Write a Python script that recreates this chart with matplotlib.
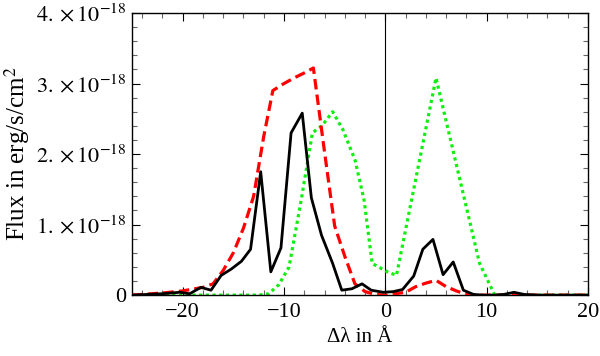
import numpy as np
import matplotlib
matplotlib.use("Agg")
import matplotlib.pyplot as plt
from matplotlib.ticker import FixedLocator, FixedFormatter, MultipleLocator

plt.rcParams['font.family'] = ['Liberation Serif', 'DejaVu Serif']
plt.rcParams['mathtext.fontset'] = 'stix'

# Data (flux in units of 1e-18 erg/s/cm^2)
x_black = [-25, -22, -20.3, -19.3, -18.2, -17.2, -16.2, -15.2, -14.2, -13.3, -12.3, -11.3, -10.3,
           -9.3, -8.2, -7.3, -6.3, -5.2, -4.3, -3.3, -2.3, -1.4, -0.2, 0.8, 1.7, 2.8, 3.7, 4.7,
           5.7, 6.7, 7.7, 8.7, 9.7, 10.7, 11.7, 12.7, 13.7, 15, 20]
y_black = [0, 0.02, 0.04, 0.02, 0.11, 0.07, 0.28, 0.37, 0.48, 0.65, 1.75, 0.33, 0.67,
           2.3, 2.58, 1.38, 0.85, 0.45, 0.07, 0.09, 0.16, 0.07, 0.04, 0.05, 0.08, 0.27, 0.65, 0.79,
           0.29, 0.47, 0.07, 0.01, 0, 0, 0.01, 0.04, 0.01, 0, 0]

x_red = [-25, -22, -20, -18, -17, -16, -15, -14, -13, -12, -11.1, -10, -9, -8, -7.1, -6, -5,
         -4, -3, -2, -1, 0, 1, 2, 3, 4, 5, 6, 7, 8, 9, 20]
y_red = [0, 0.03, 0.06, 0.11, 0.16, 0.35, 0.6, 0.95, 1.4, 2.25, 2.9, 3.0, 3.08, 3.15, 3.22, 2.03, 0.98,
         0.55, 0.16, 0.05, 0.01, 0, 0.02, 0.04, 0.12, 0.17, 0.21, 0.12, 0.06, 0.01, 0, 0]

x_green = [-25, -12.5, -11.5, -10.5, -9.5, -8.3, -7.2, -6.2, -5.2, -4.2, -3.0, -2.1, -1.3,
           0.2, 1.1, 5.0, 9.3, 10.8, 20]
y_green = [0, 0, 0.02, 0.15, 0.4, 1.35, 2.3, 2.41, 2.6, 2.35, 1.92, 1.35, 0.45,
           0.33, 0.28, 3.08, 0.45, 0, 0]

scale = 1e-18
y_major = [0, 1e-18, 2e-18, 3e-18, 4e-18]
y_labels = ["0", r"$1.\times10^{-18}$", r"$2.\times10^{-18}$", r"$3.\times10^{-18}$", r"$4.\times10^{-18}$"]
x_major = [-20, -10, 0, 10, 20]
x_labels = ["\u221220", "\u221210", "0", "10", "20"]

fig = plt.figure(figsize=(6, 3.56), dpi=100)
ax = fig.add_axes([0.22, 0.171, 0.76, 0.7925])

ax.axvline(0, color='black', lw=0.8, zorder=1)
ax.plot(x_green, np.array(y_green) * scale, color='#11ee11', lw=2.3, linestyle=(0, (1.0, 1.1)),
        zorder=2)
ax.plot(x_red, np.array(y_red) * scale, color='#ff0000', lw=2.3, linestyle=(0, (3.3, 1.6)),
        zorder=3)
ax.plot(x_black, np.array(y_black) * scale, color='black', lw=2.0, zorder=4)

ax.set_xlim(-25, 20)
ax.set_ylim(0, 4e-18)

ax.xaxis.set_major_locator(FixedLocator(x_major))
ax.xaxis.set_major_formatter(FixedFormatter(x_labels))
ax.xaxis.set_minor_locator(MultipleLocator(2))
ax.yaxis.set_major_locator(FixedLocator(y_major))
ax.yaxis.set_major_formatter(FixedFormatter(y_labels))
ax.yaxis.set_minor_locator(MultipleLocator(0.2e-18))

ax.tick_params(which='both', direction='in', top=True, right=True, labelsize=16, width=0.8)
ax.tick_params(which='major', length=6)
ax.tick_params(which='minor', length=3.5, color='#666666')
ax.tick_params(axis='x', pad=6)
ax.tick_params(axis='y', pad=4)

for s in ax.spines.values():
    s.set_linewidth(1.0)

ax.set_xlabel("\u0394\u03bb in \u00c5", fontsize=15, labelpad=4)
ax.set_ylabel(r"Flux in erg/s/cm$^2$", fontsize=18, labelpad=3)

fig.savefig("out.png", dpi=100)
